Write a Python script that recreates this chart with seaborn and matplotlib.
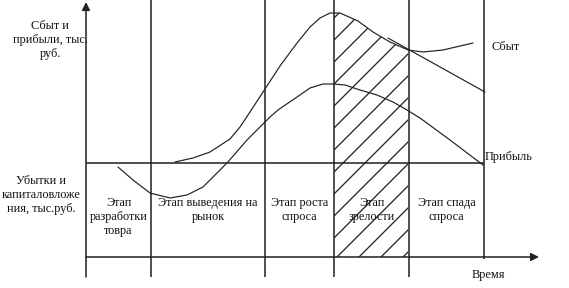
import matplotlib
matplotlib.use("Agg")
import matplotlib.pyplot as plt
import seaborn as sns
import pandas as pd
from matplotlib.patches import Rectangle

# ---------------- data (time units, value units; 0 = break-even line) -------------
stage_bounds = [0, 65, 179, 248, 323, 398]
stage_labels = ["Этап\nразработки\nтовра", "Этап выведения на\nрынок",
                "Этап роста\nспроса", "Этап\nзрелости", "Этап спада\nспроса"]

sales_t = [89, 107, 124, 144, 154, 164, 179, 194, 211, 224, 234, 244, 254, 272, 287, 304, 322, 337, 357, 387]
sales_v = [1, 5, 11, 24, 36, 51, 74, 97, 120, 136, 145, 150, 150, 142, 131, 121, 113, 111, 113, 120]

decline_t = [302, 399]
decline_v = [125, 71]

profit_t = [32, 47, 64, 84, 101, 117, 141, 161, 184, 192, 211, 224, 237, 247, 259, 274, 291, 307, 321, 334, 364, 397]
profit_v = [-4, -17, -30, -35, -32, -24, 0, 23, 46, 53, 66, 75, 79, 79, 78, 73, 68, 61, 53, 45, 23, -2]

baseline_v = -94
mature_stage = (248, 323)

# ---------------- figure ----------------
sns.set_theme(style="white")
plt.rcParams["font.family"] = ["Liberation Serif", "DejaVu Serif"]
plt.rcParams["hatch.linewidth"] = 0.7

DPI = 132
fig = plt.figure(figsize=(569 / DPI, 288 / DPI), dpi=DPI)
ax = fig.add_axes([0, 0, 1, 1])

LC = "#222222"
LW_GRID = 0.85
LW_CURVE = 0.65

# stage grid
ax.vlines(stage_bounds[1:-1], -114, 163, color=LC, lw=LW_GRID)
ax.vlines(stage_bounds[-1], baseline_v - 2, 163, color=LC, lw=LW_GRID)
ax.hlines(0, 0, stage_bounds[-1], color=LC, lw=LW_GRID)

# axes with arrows
ax.annotate("", xy=(0, 161), xytext=(0, -114),
            arrowprops=dict(arrowstyle="-|>", color=LC, lw=LW_GRID,
                            mutation_scale=9, shrinkA=0, shrinkB=0))
ax.annotate("", xy=(453, baseline_v), xytext=(0, baseline_v),
            arrowprops=dict(arrowstyle="-|>", color=LC, lw=LW_GRID,
                            mutation_scale=9, shrinkA=0, shrinkB=0))

# curves
sales_df = pd.DataFrame({"t": sales_t, "v": sales_v})
profit_df = pd.DataFrame({"t": profit_t, "v": profit_v})
decline_df = pd.DataFrame({"t": decline_t, "v": decline_v})
for df in (sales_df, profit_df, decline_df):
    sns.lineplot(data=df, x="t", y="v", ax=ax, color=LC, lw=LW_CURVE,
                 sort=False, estimator=None)

# hatched maturity stage (bounded above by the sales curve)
mat = sales_df[(sales_df.t >= 244) & (sales_df.t <= mature_stage[1])]
hatch = ax.fill_between(mat.t, baseline_v, mat.v, facecolor="none", edgecolor=LC,
                        hatch="//", linewidth=0)
clip = Rectangle((mature_stage[0], -200), mature_stage[1] - mature_stage[0], 500,
                 transform=ax.transData, visible=False)
ax.add_patch(clip)
hatch.set_clip_path(clip)

ax.set_xlim(-86, 483)
ax.set_ylim(-125, 163)
ax.axis("off")

# texts
FS = 6.7
TC = "#111111"
ax.text(-36, 123, "Сбыт и\nприбыли, тыс.\nруб.", ha="center", va="center",
        fontsize=FS, linespacing=1.2, color=TC)
ax.text(-45, -32, "Убытки и\nкапиталовложе\nния, тыс.руб.", ha="center", va="center",
        fontsize=FS, linespacing=1.2, color=TC)
for i, lab in enumerate(stage_labels):
    cx = (stage_bounds[i] + stage_bounds[i + 1]) / 2
    cy = -54 if lab.count("\n") == 2 else -47
    ax.text(cx, cy, lab, ha="center", va="center", fontsize=FS, linespacing=1.2, color=TC)
ax.text(406, 116, "Сбыт", ha="left", va="center", fontsize=FS, color=TC)
ax.text(399, 6, "Прибыль", ha="left", va="center", fontsize=FS, color=TC)
ax.text(386, -112, "Время", ha="left", va="center", fontsize=FS, color=TC)

fig.savefig("out.png", dpi=DPI)
